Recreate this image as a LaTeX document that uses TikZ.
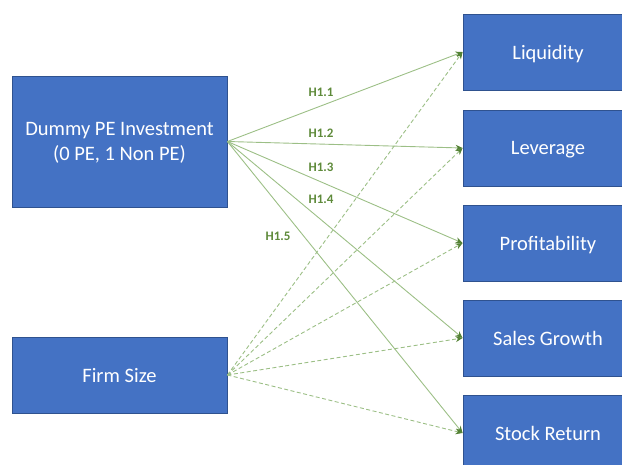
\documentclass[tikz,border=0pt]{standalone}
\usepackage{fontspec}
\setmainfont{Carlito}
\usetikzlibrary{arrows.meta}
\definecolor{boxblue}{HTML}{4472C4}
\definecolor{boxedge}{HTML}{2F528F}
\definecolor{linegreen}{HTML}{9CBF86}
\definecolor{tipgreen}{HTML}{548235}
\definecolor{labgreen}{HTML}{5E8A3A}
\begin{document}
\begin{tikzpicture}[x=1pt,y=-1pt,
  box/.style={draw=boxedge,line width=0.8pt,fill=boxblue,text=white,inner sep=0pt,align=center,text depth=0pt,font=\fontsize{20.5}{25}\selectfont},
  link/.style={draw=linegreen,line width=0.9pt,-{Stealth[length=7pt,width=6pt,color=tipgreen,fill=tipgreen]}},
  dlink/.style={link,dash pattern=on 4pt off 2.5pt},
  hlab/.style={text=labgreen,font=\fontsize{13}{15}\selectfont\bfseries}]
\useasboundingbox (0,0) rectangle (622,464);
\node[box,minimum width=215pt,minimum height=131pt] (dummy) at (119.5,141.5) {Dummy PE Investment\\(0 PE, 1 Non PE)};
\node[box,minimum width=215pt,minimum height=76pt] (size) at (119.5,375) {Firm Size};
\node[box,minimum width=170pt,minimum height=76pt] (liq) at (548,52) {Liquidity};
\node[box,minimum width=170pt,minimum height=76pt] (lev) at (548,148) {Leverage};
\node[box,minimum width=170pt,minimum height=76pt] (prof) at (548,243) {Profitability};
\node[box,minimum width=170pt,minimum height=76pt] (sales) at (548,338) {Sales Growth};
\node[box,minimum width=170pt,minimum height=76pt] (stock) at (548,433) {Stock Return};
\foreach \t in {liq,lev,prof,sales,stock}{
  \draw[link] (dummy.east) -- (\t.west);
  \draw[dlink] (size.east) -- (\t.west);
}
\node[hlab] (h1) at (321,92) {H1.1};
\node[hlab] (h2) at (321,133) {H1.2};
\node[hlab] (h3) at (321,167) {H1.3};
\node[hlab] (h4) at (321,199) {H1.4};
\node[hlab] (h5) at (278,236) {H1.5};
\end{tikzpicture}
\end{document}
